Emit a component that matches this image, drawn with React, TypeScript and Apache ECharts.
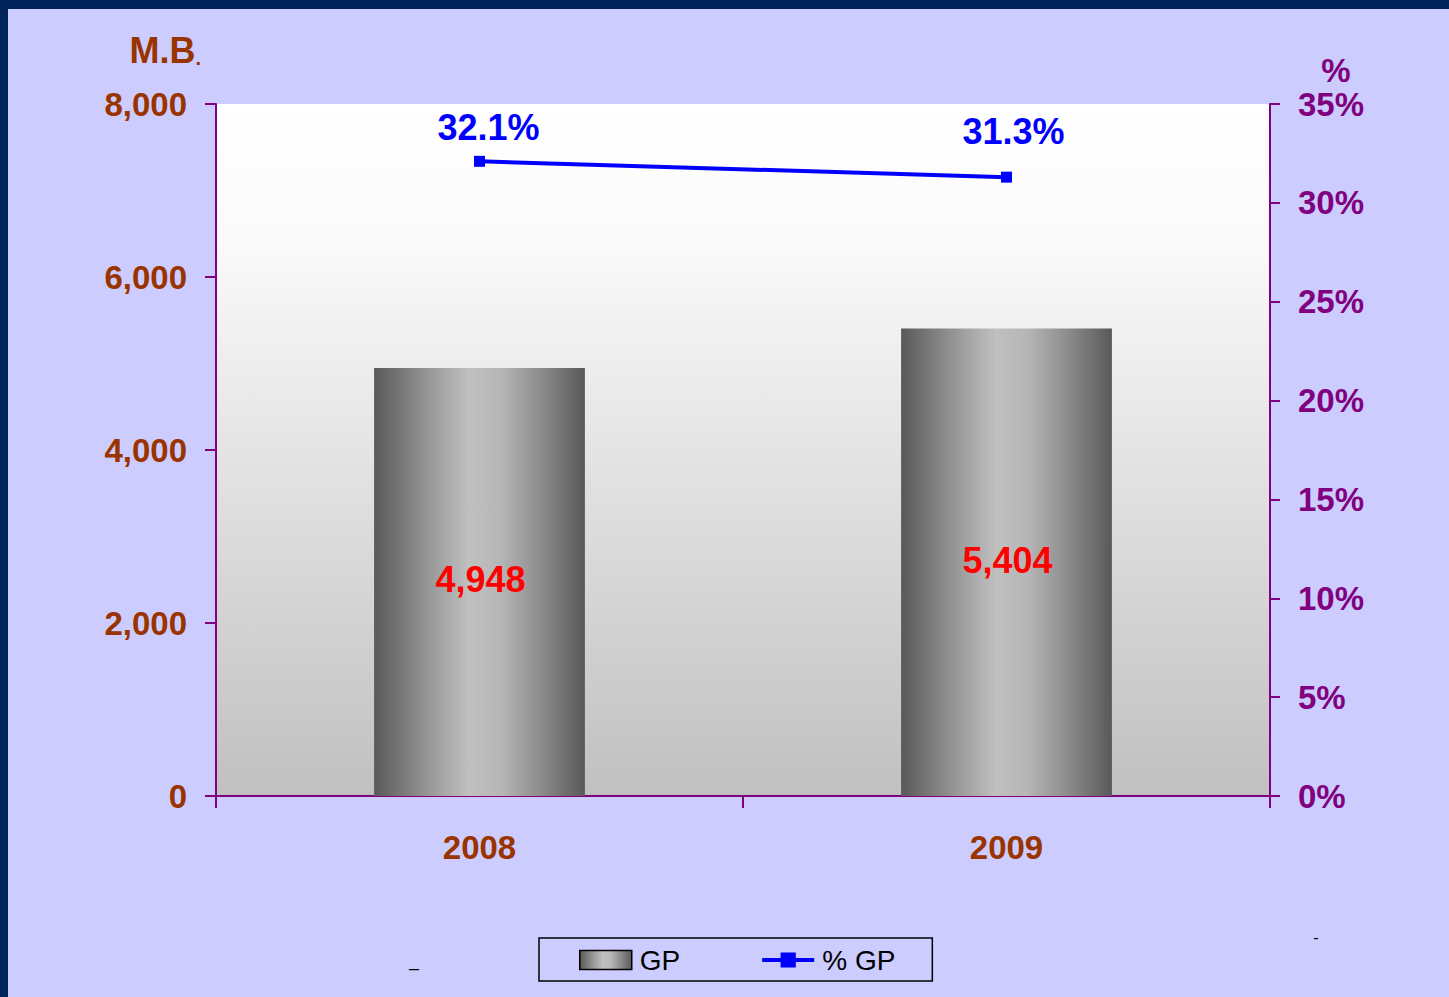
import React, { useEffect, useRef } from "react";
import * as echarts from "echarts";

const years = ["2008", "2009"];
const gpValues = [4948, 5404];
const gpPercent = [32.1, 31.3];
const leftTicks = [0, 2000, 4000, 6000, 8000];
const rightMax = 35;

const BROWN = "#993300";
const PURPLE = "#800080";
const NAVY = "#00245a";
const FONT = "'Liberation Sans', Arial, sans-serif";

export default function App() {
  const ref = useRef<HTMLDivElement>(null);
  useEffect(() => {
    const chart = echarts.init(ref.current!, undefined, { renderer: "svg" });
    const barGradient = new echarts.graphic.LinearGradient(0, 0, 1, 0, [
      { offset: 0, color: "#595959" },
      { offset: 0.28, color: "#9c9c9c" },
      { offset: 0.45, color: "#c0c0c0" },
      { offset: 0.6, color: "#b6b6b6" },
      { offset: 0.8, color: "#8a8a8a" },
      { offset: 1, color: "#595959" },
    ]);
    chart.setOption({
      animation: false,
      backgroundColor: "#ccccff",
      textStyle: { fontFamily: FONT },
      grid: {
        left: 216,
        top: 104,
        width: 1054,
        height: 692,
        show: true,
        borderWidth: 0,
        backgroundColor: new echarts.graphic.LinearGradient(0, 0, 0, 1, [
          { offset: 0, color: "#ffffff" },
          { offset: 0.2, color: "#fafafa" },
          { offset: 1, color: "#c0c0c0" },
        ]),
      },
      legend: {
        left: 539,
        top: 938,
        orient: "horizontal",
        backgroundColor: "#ccccff",
        borderColor: "#000000",
        borderWidth: 1.5,
        padding: [8, 37, 7, 40],
        itemWidth: 52,
        itemHeight: 19,
        itemGap: 80,
        textStyle: { fontSize: 28, color: "#000", fontFamily: FONT, padding: [0, 0, 0, 3] },
        data: [
          { name: "GP", icon: "rect", itemStyle: { borderColor: "#000", borderWidth: 1.5 } },
          { name: "% GP", lineStyle: { width: 4 } },
        ],
      },
      xAxis: {
        type: "category",
        data: years,
        boundaryGap: true,
        axisLine: { lineStyle: { color: PURPLE, width: 2 } },
        axisTick: { show: true, length: 12, lineStyle: { color: PURPLE, width: 2 } },
        axisLabel: { color: BROWN, fontSize: 33, fontWeight: "bold", margin: 35, fontFamily: FONT },
        splitLine: { show: false },
      },
      yAxis: [
        {
          type: "value",
          min: 0,
          max: leftTicks[leftTicks.length - 1],
          interval: leftTicks[1] - leftTicks[0],
          position: "left",
          axisLine: { show: true, lineStyle: { color: PURPLE, width: 2 } },
          axisTick: { show: true, length: 11, lineStyle: { color: PURPLE, width: 2 } },
          axisLabel: {
            color: BROWN,
            fontSize: 33,
            fontWeight: "bold",
            margin: 29,
            fontFamily: FONT,
            padding: [3, 0, 0, 0],
            formatter: (v: number) => v.toLocaleString("en-US"),
          },
          splitLine: { show: false },
        },
        {
          type: "value",
          min: 0,
          max: rightMax,
          interval: 5,
          position: "right",
          axisLine: { show: true, lineStyle: { color: PURPLE, width: 2 } },
          axisTick: { show: true, length: 10, lineStyle: { color: PURPLE, width: 2 } },
          axisLabel: {
            color: PURPLE,
            fontSize: 33,
            fontWeight: "bold",
            margin: 28,
            fontFamily: FONT,
            padding: [3, 0, 0, 0],
            formatter: (v: number) => v + "%",
          },
          splitLine: { show: false },
        },
      ],
      series: [
        {
          name: "GP",
          type: "bar",
          data: gpValues,
          barWidth: "40%",
          yAxisIndex: 0,
          itemStyle: { color: barGradient },
          label: {
            show: true,
            position: "inside",
            color: "#ff0000",
            fontSize: 36,
            fontWeight: "bold",
            fontFamily: FONT,
            offset: [1, -2],
            formatter: (p: any) => Number(p.value).toLocaleString("en-US"),
          },
        },
        {
          name: "% GP",
          type: "line",
          data: gpPercent.map((v, i) => ({
            value: v,
            label: { offset: i === 1 ? [7, -12] : [9, 0] },
          })),
          yAxisIndex: 1,
          symbol: "rect",
          symbolSize: 11,
          color: "#0000ff",
          lineStyle: { color: "#0000ff", width: 4 },
          itemStyle: { color: "#0000ff" },
          label: {
            show: true,
            position: "top",
            distance: 10,
            color: "#0000ff",
            fontSize: 36,
            fontWeight: "bold",
            fontFamily: FONT,
            formatter: (p: any) => Number(p.value).toFixed(1) + "%",
          },
        },
      ],
      graphic: [
        { type: "rect", shape: { x: 0, y: 0, width: 1449, height: 9 }, style: { fill: NAVY }, silent: true },
        { type: "rect", shape: { x: 0, y: 0, width: 8, height: 997 }, style: { fill: NAVY }, silent: true },
        {
          type: "text",
          x: 201,
          y: 50,
          style: {
            text: "{a|M.B}{b|.}",
            align: "right",
            verticalAlign: "middle",
            rich: {
              a: { fontSize: 36, fontWeight: "bold", fill: BROWN, fontFamily: FONT },
              b: { fontSize: 20, fontWeight: "bold", fill: BROWN, fontFamily: FONT, verticalAlign: "bottom" },
            },
          },
        },
        {
          type: "text",
          x: 1336,
          y: 70,
          style: {
            text: "%",
            align: "center",
            verticalAlign: "middle",
            fontSize: 33,
            fontWeight: "bold",
            fill: PURPLE,
            fontFamily: FONT,
          },
        },
        {
          type: "text",
          x: 414,
          y: 968,
          style: { text: "–", align: "center", verticalAlign: "middle", fontSize: 18, fill: "#000", fontFamily: FONT },
        },
        {
          type: "text",
          x: 1316,
          y: 937,
          style: { text: "-", align: "center", verticalAlign: "middle", fontSize: 16, fill: "#000", fontFamily: FONT },
        },
      ],
    });
    return () => chart.dispose();
  }, []);
  return (
    <div
      ref={ref}
      style={{ position: "fixed", left: 0, top: 0, width: 1449, height: 997 }}
    />
  );
}
